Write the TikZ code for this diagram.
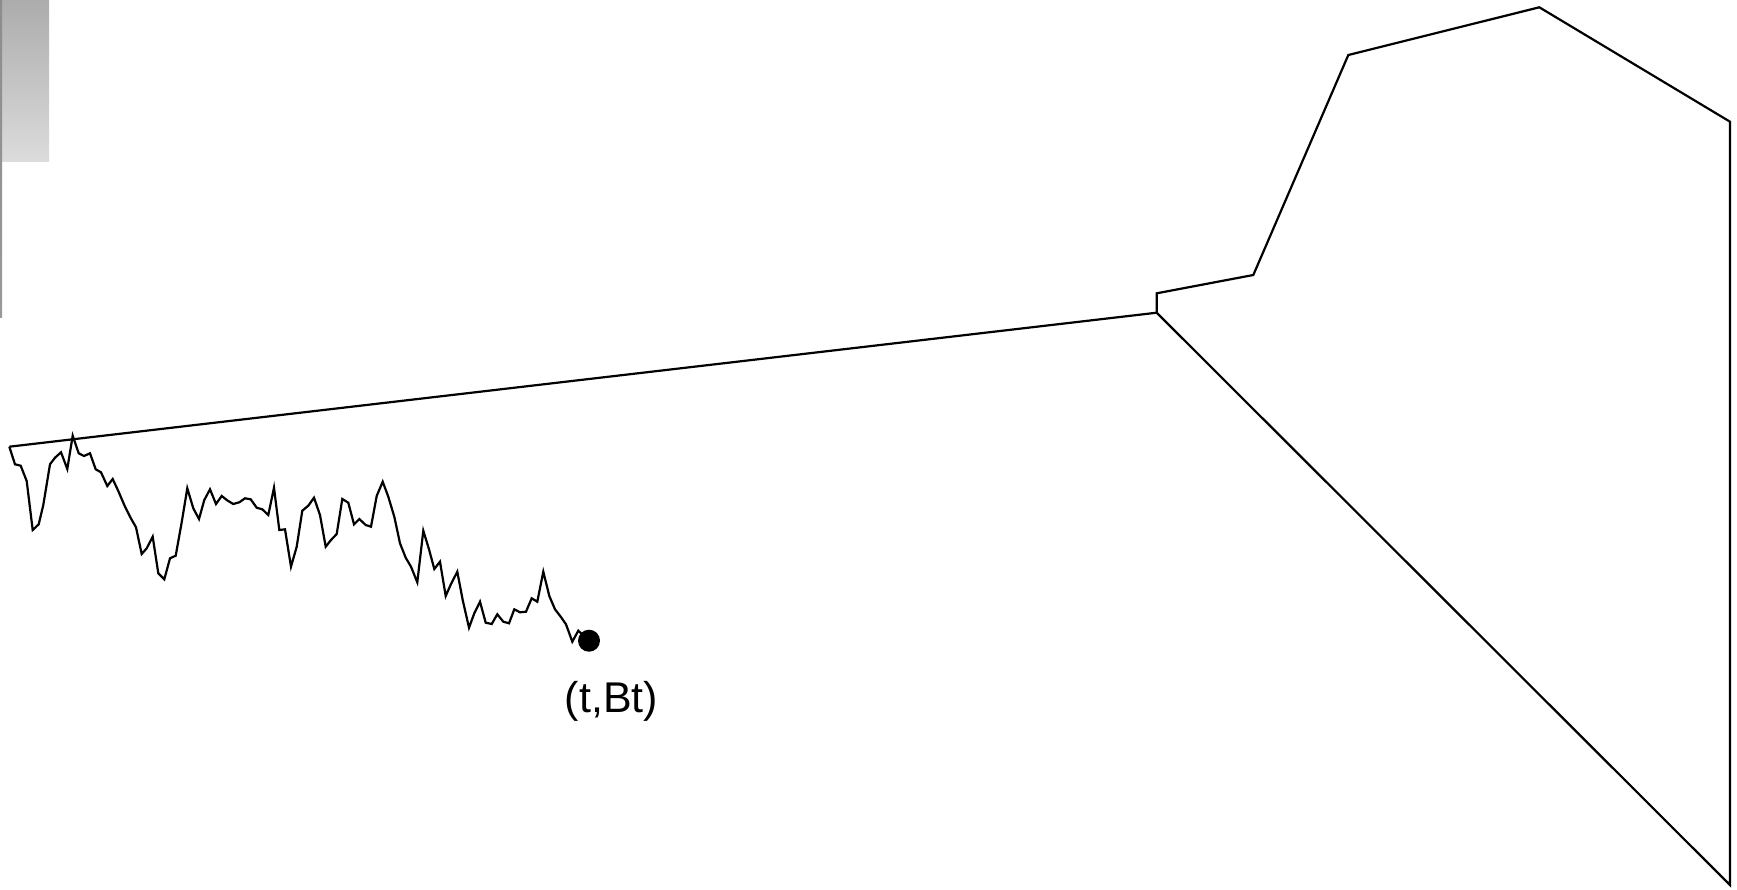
\documentclass[tikz,border=0pt]{standalone}
\usepackage{fontspec}
\setmainfont{Liberation Sans}
\begin{document}
\begin{tikzpicture}[x=1pt,y=-1pt,
  outline/.style={draw=black,line width=2.2pt,line join=miter},
  walkline/.style={draw=black,line width=2.2pt,line join=miter},
  pointdot/.style={circle,fill=black,inner sep=0pt,minimum size=22pt},
  pointlabel/.style={font=\fontsize{43}{50}\selectfont,inner sep=0pt}]
\useasboundingbox (0,0) rectangle (1737,889);

% grey shaded swatch and thin bar at the top left
\shade[top color=gray!65,bottom color=gray!28] (0,0) rectangle (49,161);
\shade[top color=gray!90,bottom color=gray!120!black] (0,0) rectangle (2.2,317);

% corner points of the outline
\coordinate (s) at (9.3,446.7);
\coordinate (p1) at (1156.7,312.7);
\coordinate (p2) at (1156.7,293.3);
\coordinate (p3) at (1253.3,275);
\coordinate (p4) at (1348.3,55);
\coordinate (p5) at (1539.3,7.3);
\coordinate (p6) at (1730,121.7);
\coordinate (p7) at (1730,885);

\path[outline] (s) -- (p1) -- (p2) -- (p3) -- (p4) -- (p5) -- (p6) -- (p7) -- (p1);

% sample path of the walk
\node[pointdot] (dot) at (589,640.7) {};
\draw[walkline] (s)
  -- (15,464.3) -- (20.7,465.7) -- (26.7,481) -- (32.7,530) -- (38.7,524.3)
  -- (43.3,505) -- (50,464.3) -- (55,457.7) -- (61,452.3) -- (67.3,469)
  -- (72.7,435.7) -- (78.7,453.3) -- (84,456) -- (90,453.3) -- (95.7,469.3)
  -- (101,472.3) -- (107.3,486) -- (112.7,479) -- (118.3,491) -- (125,506.7)
  -- (130,516.7) -- (136,527.3) -- (141.7,554) -- (146.7,548.3) -- (152.7,536.7)
  -- (158.3,573.3) -- (164.3,579.3) -- (170,558.3) -- (175.7,555.7) -- (181.7,522.3)
  -- (187.3,488.3) -- (193.3,508.3) -- (199,519) -- (204.3,500) -- (210,489.3)
  -- (216,504) -- (221.7,496) -- (227.7,500.7) -- (233.3,504) -- (239.3,502.3)
  -- (245,498.3) -- (250.7,499.3) -- (256.7,507.7) -- (262.3,509.3) -- (268.3,515)
  -- (274,487.7) -- (279.3,530) -- (285,529.3) -- (291,566.7) -- (296.7,546.7)
  -- (302.3,510.7) -- (308.3,505.7) -- (314,497.7) -- (320,515) -- (325.7,546.7)
  -- (331,540) -- (336.7,534) -- (342.3,499) -- (348.3,502.7) -- (354,524.3)
  -- (359.3,519) -- (365.7,525) -- (371,526.7) -- (376.7,496) -- (382.7,481.7)
  -- (388.3,496.7) -- (394.3,516.7) -- (400,543.3) -- (405.7,557.7) -- (411,566.7)
  -- (417.3,582.3) -- (423.3,530.7) -- (429,549.3) -- (434.3,569) -- (440,561.7)
  -- (445.7,596) -- (451,584) -- (457.3,571.7) -- (462.7,600) -- (469,627.7)
  -- (474.3,613.3) -- (480,601.7) -- (485.7,622.7) -- (491.7,624) -- (497.3,614.3)
  -- (503.3,621.7) -- (509,623.3) -- (514.3,609.3) -- (520,612.3) -- (526,611.7)
  -- (531.7,598.3) -- (537.3,601.7) -- (543.3,571.7) -- (549.3,596) -- (555,609.3)
  -- (560.7,616.7) -- (566,624.3) -- (572.3,641.7) -- (578.3,630.7) -- (dot.center);

\node[pointlabel] (lbl) at (611.5,701.7) {(t,Bt)};
\end{tikzpicture}
\end{document}
